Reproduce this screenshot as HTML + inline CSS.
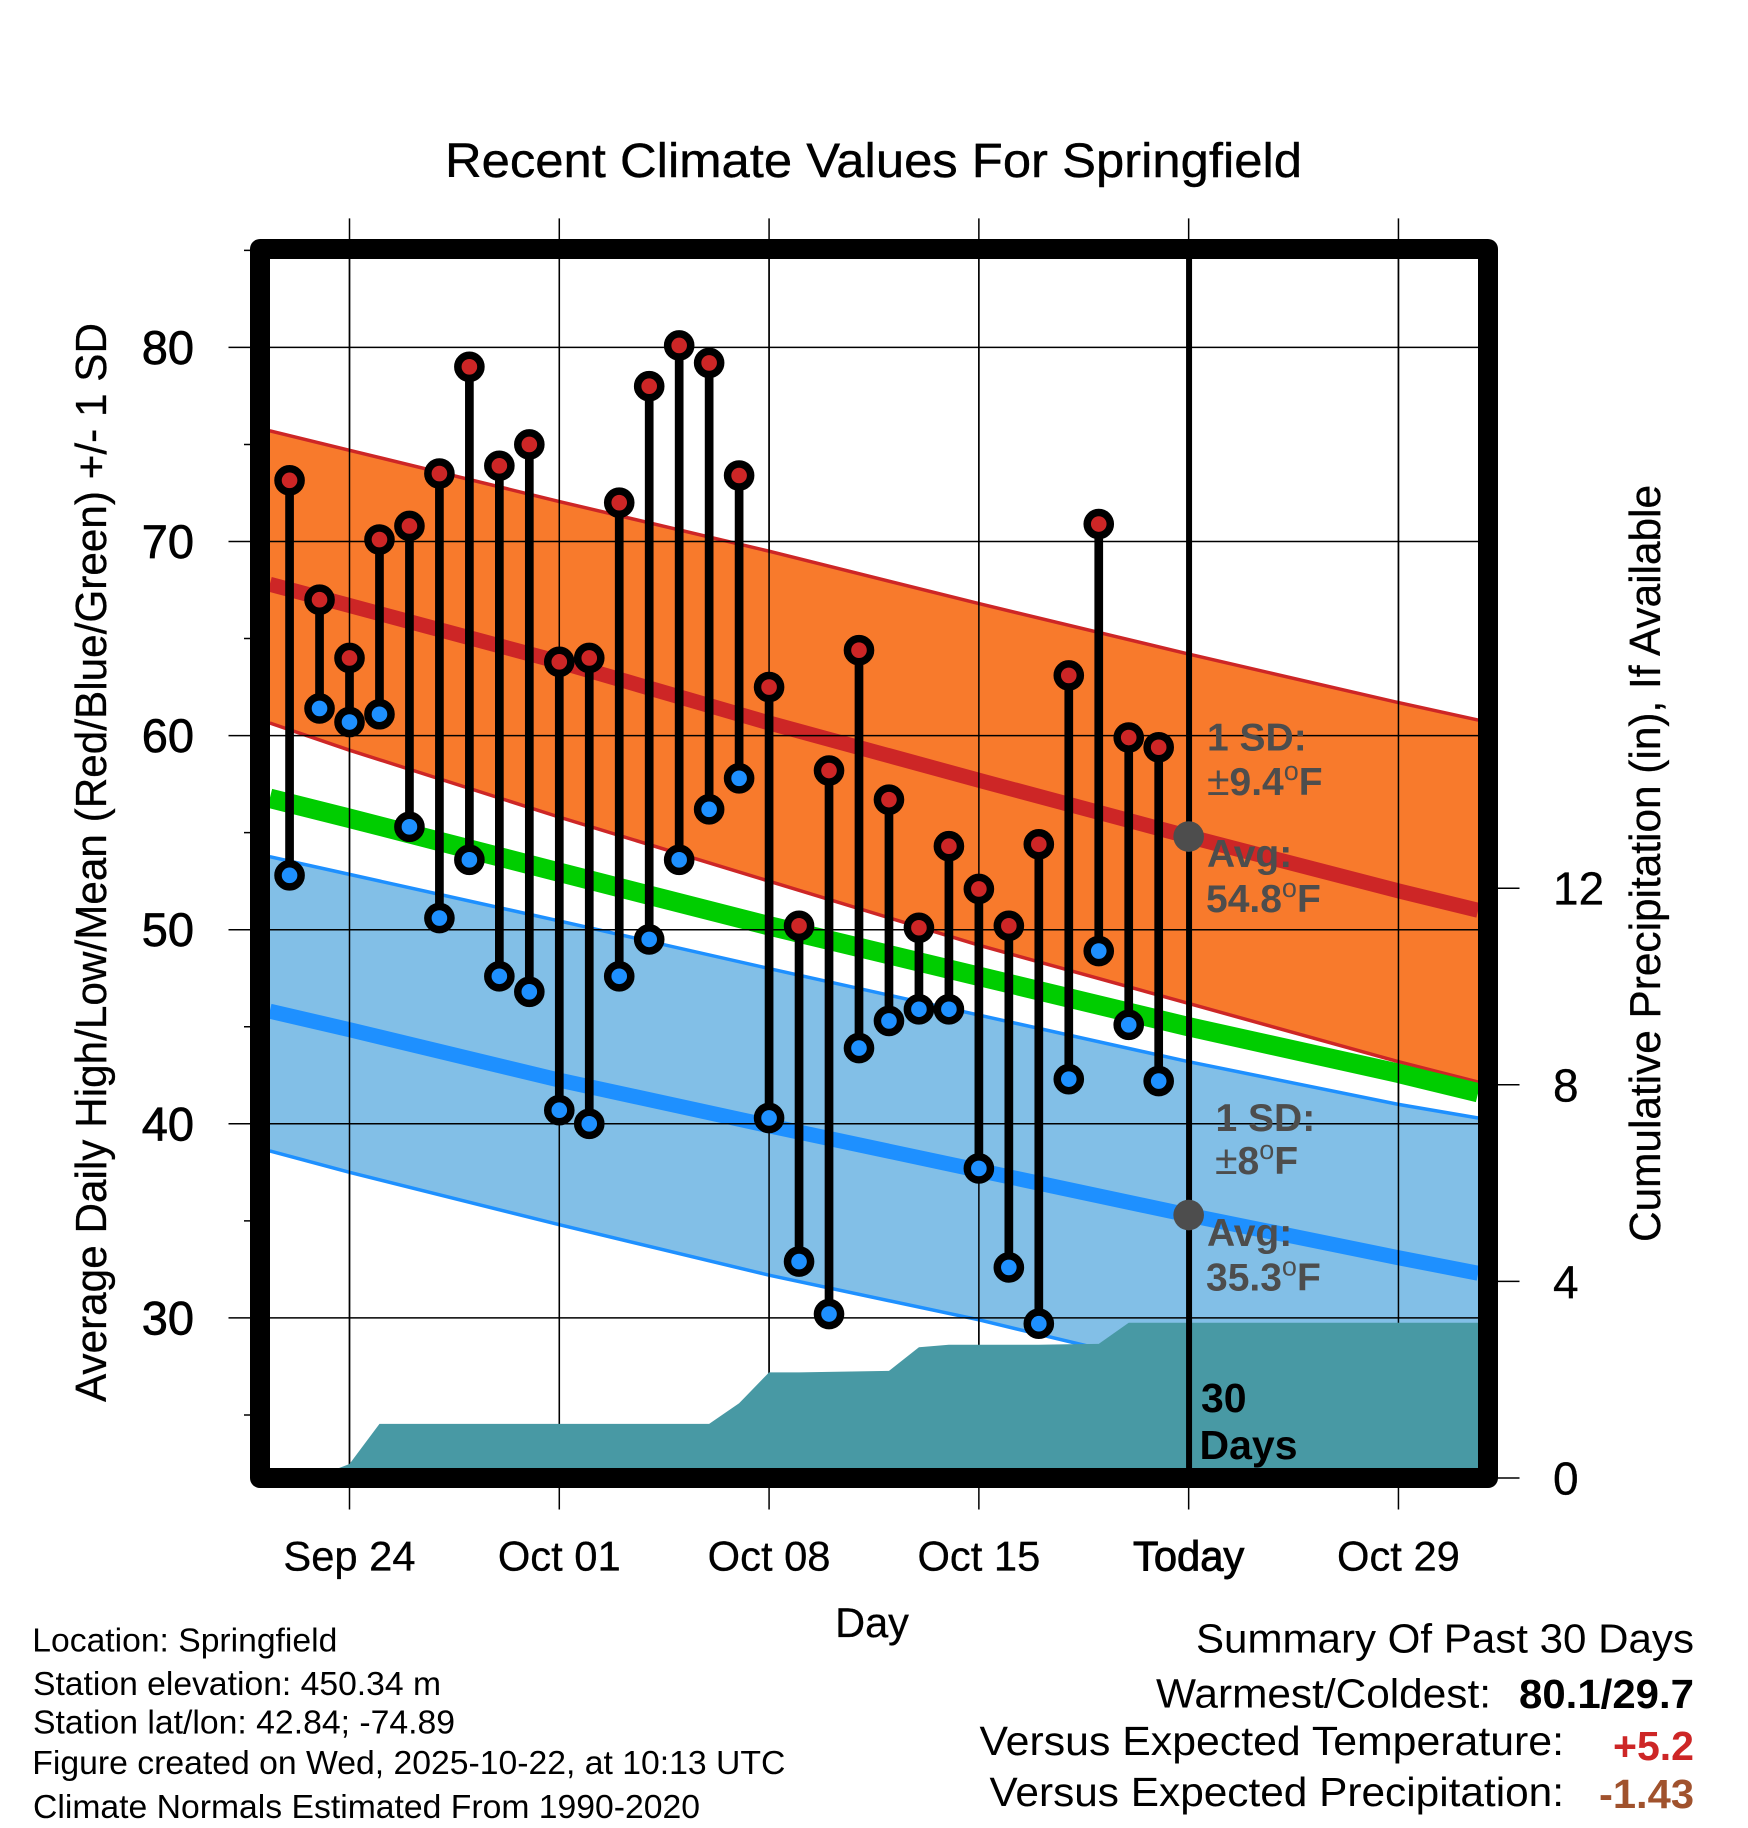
<!DOCTYPE html>
<html lang="en">
<head>
<meta charset="utf-8">
<title>Recent Climate Values For Springfield</title>
<style>
html,body{margin:0;padding:0;background:#fff;}
svg{display:block;}
text{font-family:"Liberation Sans",Arial,sans-serif;}
</style>
</head>
<body>
<svg id="chart" xmlns="http://www.w3.org/2000/svg" width="1748" height="1828" viewBox="0 0 1748 1828">
  <defs>
    <clipPath id="plot-clip"><rect x="260" y="249" width="1228" height="1229"/></clipPath>
  </defs>
  <rect x="0" y="0" width="1748" height="1828" fill="#ffffff"/>
  <text x="445" y="177" font-size="48" textLength="857" lengthAdjust="spacingAndGlyphs" fill="#000" stroke="#000" stroke-width="0.4">Recent Climate Values For Springfield</text>
  <g id="axis-layer"></g>
  <g id="plot-layer" clip-path="url(#plot-clip)"></g>

  <text transform="translate(106,1402) rotate(-90)" font-size="44" textLength="1079" lengthAdjust="spacingAndGlyphs" fill="#000" stroke="#000" stroke-width="0.3">Average Daily High/Low/Mean (Red/Blue/Green) +/- 1 SD</text>
  <text transform="translate(1660,1242) rotate(-90)" font-size="44" textLength="757" lengthAdjust="spacingAndGlyphs" fill="#000" stroke="#000" stroke-width="0.3">Cumulative Precipitation (in), If Available</text>
  <text x="872" y="1637" font-size="41.5" text-anchor="middle" fill="#000" stroke="#000" stroke-width="0.3">Day</text>

  <g fill="#000" font-size="33">
    <text x="32.3" y="1651.5" textLength="305" lengthAdjust="spacingAndGlyphs">Location: Springfield</text>
    <text x="33" y="1695" textLength="408" lengthAdjust="spacingAndGlyphs">Station elevation: 450.34 m</text>
    <text x="33" y="1733.7" textLength="422" lengthAdjust="spacingAndGlyphs">Station lat/lon: 42.84; -74.89</text>
    <text x="32.3" y="1774" textLength="753" lengthAdjust="spacingAndGlyphs">Figure created on Wed, 2025-10-22, at 10:13 UTC</text>
    <text x="33" y="1818" textLength="667" lengthAdjust="spacingAndGlyphs">Climate Normals Estimated From 1990-2020</text>
  </g>

  <g font-size="41" fill="#000">
    <text x="1196" y="1652.7" textLength="498" lengthAdjust="spacingAndGlyphs">Summary Of Past 30 Days</text>
    <text x="1156" y="1707.7" textLength="335" lengthAdjust="spacingAndGlyphs">Warmest/Coldest:</text>
    <text x="1519" y="1708" textLength="175" lengthAdjust="spacingAndGlyphs" font-weight="bold">80.1/29.7</text>
    <text x="979.5" y="1755" textLength="584.5" lengthAdjust="spacingAndGlyphs">Versus Expected Temperature:</text>
    <text x="1613" y="1760" textLength="81" lengthAdjust="spacingAndGlyphs" font-weight="bold" fill="#CD2626">+5.2</text>
    <text x="989.5" y="1806" textLength="574.5" lengthAdjust="spacingAndGlyphs">Versus Expected Precipitation:</text>
    <text x="1599" y="1808" textLength="95" lengthAdjust="spacingAndGlyphs" font-weight="bold" fill="#A0522D">-1.43</text>
  </g>
</svg>
<script>
// ---- data ----
const highs = [73.15,67.0,64.0,70.1,70.8,73.5,79.0,73.9,75.0,63.8,64.0,72.0,78.0,80.1,79.2,73.4,62.5,50.2,58.2,64.4,56.7,50.1,54.3,52.1,50.2,54.4,63.1,70.9,59.9,59.4];
const lows = [52.8,61.4,60.7,61.1,55.3,50.6,53.6,47.6,46.8,40.7,40.0,47.6,49.5,53.6,56.2,57.8,40.3,32.9,30.2,43.9,45.3,45.9,45.9,37.7,32.6,29.7,42.3,48.9,45.1,42.2];
const precip = [0,0.05,0.285,1.10,1.10,1.10,1.10,1.10,1.10,1.10,1.10,1.10,1.10,1.10,1.10,1.52,2.15,2.15,2.16,2.17,2.18,2.66,2.71,2.71,2.71,2.71,2.72,2.73,3.16,3.16,3.16];
const normalDays = [-0.66,2,9,16,23,30,37,39.66];
const highMean = [67.8,66.7,63.8,60.65,57.7,54.8,52.0,51.0];
const highUpper = [75.7,74.7,72.06,69.5,66.8,64.2,61.7,60.8];
const highLower = [60.65,59.25,55.8,52.5,49.2,46.2,43.2,42.15];
const meanNormal = [56.77,55.74,52.96,50.2,47.6,45.0,42.6,41.6];
const lowMean = [45.8,44.85,42.25,39.9,37.6,35.3,33.1,32.3];
const lowUpper = [53.76,52.85,50.45,48.0,45.6,43.2,41.0,40.3];
const lowLower = [38.6,37.5,34.8,32.2,29.9,27.3,25.0,24.1];
const todayDay = 30;
const todayHighMean = 54.8;
const todayLowMean = 35.3;
const xTickDays = [2,9,16,23,30,37];
const xTickLabels = ['Sep 24','Oct 01','Oct 08','Oct 15','Today','Oct 29'];
const yMajorTicks = [30,40,50,60,70,80];
const yMinorTicks = [25,35,45,55,65,75,85];
const precipTicks = [0,4,8,12];

// ---- axis functions ----
const NS = 'http://www.w3.org/2000/svg';
function xs(d){ return 289.56 + 29.97 * d; }
function ys(t){ return 347.4 + (80 - t) * 19.41; }
function yp(p){ return 1478 - p * 49.15; }

function make(tag, parent, attrs){
  const e = document.createElementNS(NS, tag);
  for (const k in attrs) e.setAttribute(k, attrs[k]);
  parent.appendChild(e);
  return e;
}
function pts(xv, yv, fx, fy){
  return xv.map(function(v, i){ return fx(v).toFixed(2) + ',' + fy(yv[i]).toFixed(2); }).join(' ');
}
function bandPts(lo, hi){
  const up = normalDays.map(function(d, i){ return xs(d).toFixed(2) + ',' + ys(hi[i]).toFixed(2); });
  const dn = normalDays.map(function(d, i){ return xs(d).toFixed(2) + ',' + ys(lo[i]).toFixed(2); }).reverse();
  return up.concat(dn).join(' ');
}

const plot = document.getElementById('plot-layer');
const axes = document.getElementById('axis-layer');

// ---- high temperature band ----
const highBand = make('polygon', plot, {points: bandPts(highLower, highUpper), fill: '#F87A2C'});


[highUpper, highLower].forEach(function(arr){
  const line = make('polyline', plot, {points: pts(normalDays, arr, xs, ys), fill: 'none', stroke: '#CD2626', 'stroke-width': 3.5});
  
  
});

// ---- low temperature band ----
const lowBand = make('polygon', plot, {points: bandPts(lowLower, lowUpper), fill: '#82BFE7'});


[lowUpper, lowLower].forEach(function(arr){
  const line = make('polyline', plot, {points: pts(normalDays, arr, xs, ys), fill: 'none', stroke: '#1E90FF', 'stroke-width': 3.5});
  
  
});

// ---- mean lines ----
const meanHighLine = make('polyline', plot, {points: pts(normalDays, highMean, xs, ys), fill: 'none', stroke: '#CD2626', 'stroke-width': 15});


const meanLine = make('polyline', plot, {points: pts(normalDays, meanNormal, xs, ys), fill: 'none', stroke: '#00CD00', 'stroke-width': 19.4});


const meanLowLine = make('polyline', plot, {points: pts(normalDays, lowMean, xs, ys), fill: 'none', stroke: '#1E90FF', 'stroke-width': 15});



// ---- grid ----
yMajorTicks.forEach(function(t){
  const g = make('line', plot, {x1: 260, x2: 1488, y1: ys(t), y2: ys(t), stroke: '#000', 'stroke-width': 1.5});
  
  
});
xTickDays.forEach(function(d){
  const g = make('line', plot, {x1: xs(d), x2: xs(d), y1: 249, y2: 1478, stroke: '#000', 'stroke-width': 1.5});
  
  
});

// ---- cumulative precipitation ----
const precipDays = precip.map(function(v, i){ return i; });
const precipPoints = pts(precipDays, precip, xs, yp)
  + ' ' + xs(39.66).toFixed(2) + ',' + yp(precip[precip.length - 1]).toFixed(2)
  + ' ' + xs(39.66).toFixed(2) + ',' + yp(0).toFixed(2)
  + ' ' + xs(0).toFixed(2) + ',' + yp(0).toFixed(2);
const precipArea = make('polygon', plot, {points: precipPoints, fill: '#4899A4'});



// ---- today marker and annotations ----
const todayLine = make('line', plot, {x1: xs(todayDay) + 0.4, x2: xs(todayDay) + 0.4, y1: 249, y2: 1478, stroke: '#000', 'stroke-width': 6});



const dotHigh = make('circle', plot, {cx: xs(todayDay), cy: ys(todayHighMean), r: 15.3, fill: '#4D4D4D'});


const dotLow = make('circle', plot, {cx: xs(todayDay), cy: ys(todayLowMean), r: 15.3, fill: '#4D4D4D'});



function note(parent, px, py, prefix, value, unit, name, color, size){
  const t = make('text', parent, {x: px, y: py, 'font-size': size, 'font-weight': 'bold', fill: color});
  
  
  if (prefix) {
    const pre = make('tspan', t, {'font-weight': 'normal', 'font-size': size + 2});
    pre.textContent = prefix;
  }
  const val = make('tspan', t, {});
  val.textContent = value;
  if (unit) {
    const sup = make('tspan', t, {dy: -15, 'font-size': 27, 'font-weight': 'normal'});
    sup.textContent = 'o';
    const f = make('tspan', t, {dy: 15, 'font-size': size});
    f.textContent = 'F';
  }
  return t;
}
note(plot, 1207, 750.5, '', '1 SD:', false, 'high-sd-label', '#4D4D4D', 39);
note(plot, 1207, 795, '\u00B1', '9.4', true, 'high-sd-value', '#4D4D4D', 39);
note(plot, 1207, 867, '', 'Avg:', false, 'high-avg-label', '#4D4D4D', 39);
note(plot, 1206, 912, '', todayHighMean.toFixed(1), true, 'high-avg-value', '#4D4D4D', 39);
note(plot, 1215.5, 1130.8, '', '1 SD:', false, 'low-sd-label', '#4D4D4D', 39);
note(plot, 1215, 1174, '\u00B1', '8', true, 'low-sd-value', '#4D4D4D', 39);
note(plot, 1207, 1246, '', 'Avg:', false, 'low-avg-label', '#4D4D4D', 39);
note(plot, 1206, 1290.5, '', todayLowMean.toFixed(1), true, 'low-avg-value', '#4D4D4D', 39);
note(plot, 1201, 1412, '', '30', false, 'days-count-label', '#000', 41);
note(plot, 1199.5, 1459, '', 'Days', false, 'days-word-label', '#000', 41);

// ---- daily high/low stems and markers ----
highs.forEach(function(h, i){
  const stem = make('line', plot, {x1: xs(i), x2: xs(i), y1: ys(h), y2: ys(lows[i]), stroke: '#000', 'stroke-width': 8.7});
  
  
});
lows.forEach(function(l, i){
  const c = make('circle', plot, {cx: xs(i), cy: ys(l), r: 11.55, fill: '#1E90FF', stroke: '#000', 'stroke-width': 7.5});
  
  
});
highs.forEach(function(h, i){
  const c = make('circle', plot, {cx: xs(i), cy: ys(h), r: 11.55, fill: '#CD2626', stroke: '#000', 'stroke-width': 7.5});
  
  
});

// ---- axes, ticks, labels ----
yMajorTicks.forEach(function(t){
  const tick = make('line', axes, {x1: 228.5, x2: 262, y1: ys(t), y2: ys(t), stroke: '#000', 'stroke-width': 1.5});
  
  
  const lab = make('text', axes, {x: 194, y: ys(t) + 16.5, 'font-size': 47, 'text-anchor': 'end', fill: '#000', stroke: '#000', 'stroke-width': 0.7});
  
  
  lab.textContent = String(t);
});
yMinorTicks.forEach(function(t){
  const tick = make('line', axes, {x1: 244, x2: 262, y1: ys(t), y2: ys(t), stroke: '#000', 'stroke-width': 1.5});
  
  
});
xTickDays.forEach(function(d, i){
  const tick = make('line', axes, {x1: xs(d), x2: xs(d), y1: 218.4, y2: 1509.5, stroke: '#000', 'stroke-width': 1.5});
  
  
  const lab = make('text', axes, {x: xs(d), y: 1570.4, 'font-size': 41.7, 'text-anchor': 'middle', fill: '#000', stroke: '#000', 'stroke-width': d === todayDay ? 0.9 : 0.3});
  
  
  lab.textContent = xTickLabels[i];
});
precipTicks.forEach(function(p){
  const tick = make('line', axes, {x1: 1486, x2: 1519.5, y1: yp(p), y2: yp(p), stroke: '#000', 'stroke-width': 1.5});
  
  
  const lab = make('text', axes, {x: 1553, y: yp(p) + 16.5, 'font-size': 46, fill: '#000', stroke: '#000', 'stroke-width': 0.3});
  
  
  lab.textContent = String(p);
});

// ---- frame drawn last, over the plot ----
const frame = make('rect', document.getElementById('chart'), {x: 260, y: 249, width: 1228, height: 1229, fill: 'none', stroke: '#000', 'stroke-width': 20, 'stroke-linejoin': 'round'});


</script>
</body>
</html>
